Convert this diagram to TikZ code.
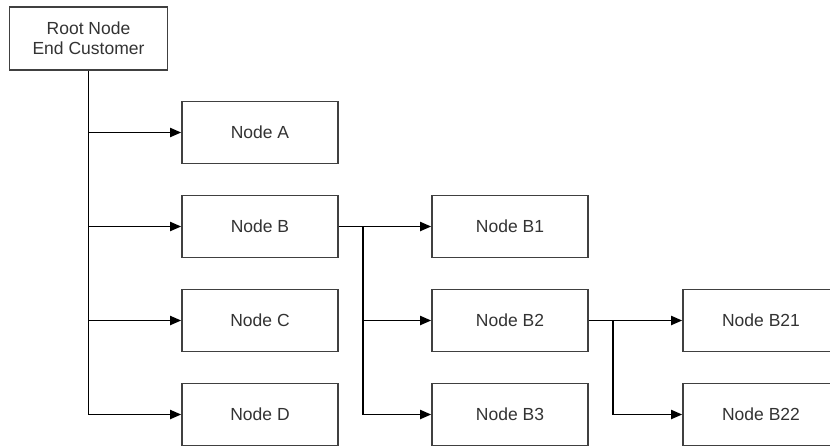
\documentclass[tikz,border=0pt]{standalone}
\usepackage{fontspec}
\setmainfont{Liberation Sans}
\usetikzlibrary{arrows.meta}
\begin{document}
\begin{tikzpicture}[x=1pt,y=-1pt,
  box/.style={draw=black!75,line width=1.6pt,fill=white,minimum width=156pt,minimum height=62pt,inner sep=0pt,
    font=\fontsize{17.5}{20}\selectfont,text=black!80,align=center},
  conn/.style={draw=black,line width=1.8pt},
  arr/.style={conn,-{Triangle[length=11pt,width=9pt]}}]
\useasboundingbox (0,0) rectangle (830,445);
\clip (0,0) rectangle (830,445);
\node[box,minimum width=158pt,minimum height=63pt] (root) at (88.5,38.5) {Root Node\\End Customer};
\node[box] (A) at (260,132.5) {Node A};
\node[box] (B) at (260,226.5) {Node B};
\node[box] (C) at (260,320.5) {Node C};
\node[box] (D) at (260,414.5) {Node D};
\node[box] (B1) at (510,226.5) {Node B1};
\node[box] (B2) at (510,320.5) {Node B2};
\node[box] (B3) at (510,414.5) {Node B3};
\node[box] (B21) at (761,320.5) {Node B21};
\node[box] (B22) at (761,414.5) {Node B22};
\draw[arr] (root.south) |- (A.west);
\draw[arr] (root.south) |- (B.west);
\draw[arr] (root.south) |- (C.west);
\draw[arr] (root.south) |- (D.west);
\coordinate (jb) at ([xshift=24pt]B.east);
\draw[arr] (B.east) -- (B1.west);
\draw[arr] (B.east) -- (jb) |- (B2.west);
\draw[arr] (jb) |- (B3.west);
\coordinate (jb2) at ([xshift=24pt]B2.east);
\draw[arr] (B2.east) -- (B21.west);
\draw[arr] (B2.east) -- (jb2) |- (B22.west);
\end{tikzpicture}
\end{document}
